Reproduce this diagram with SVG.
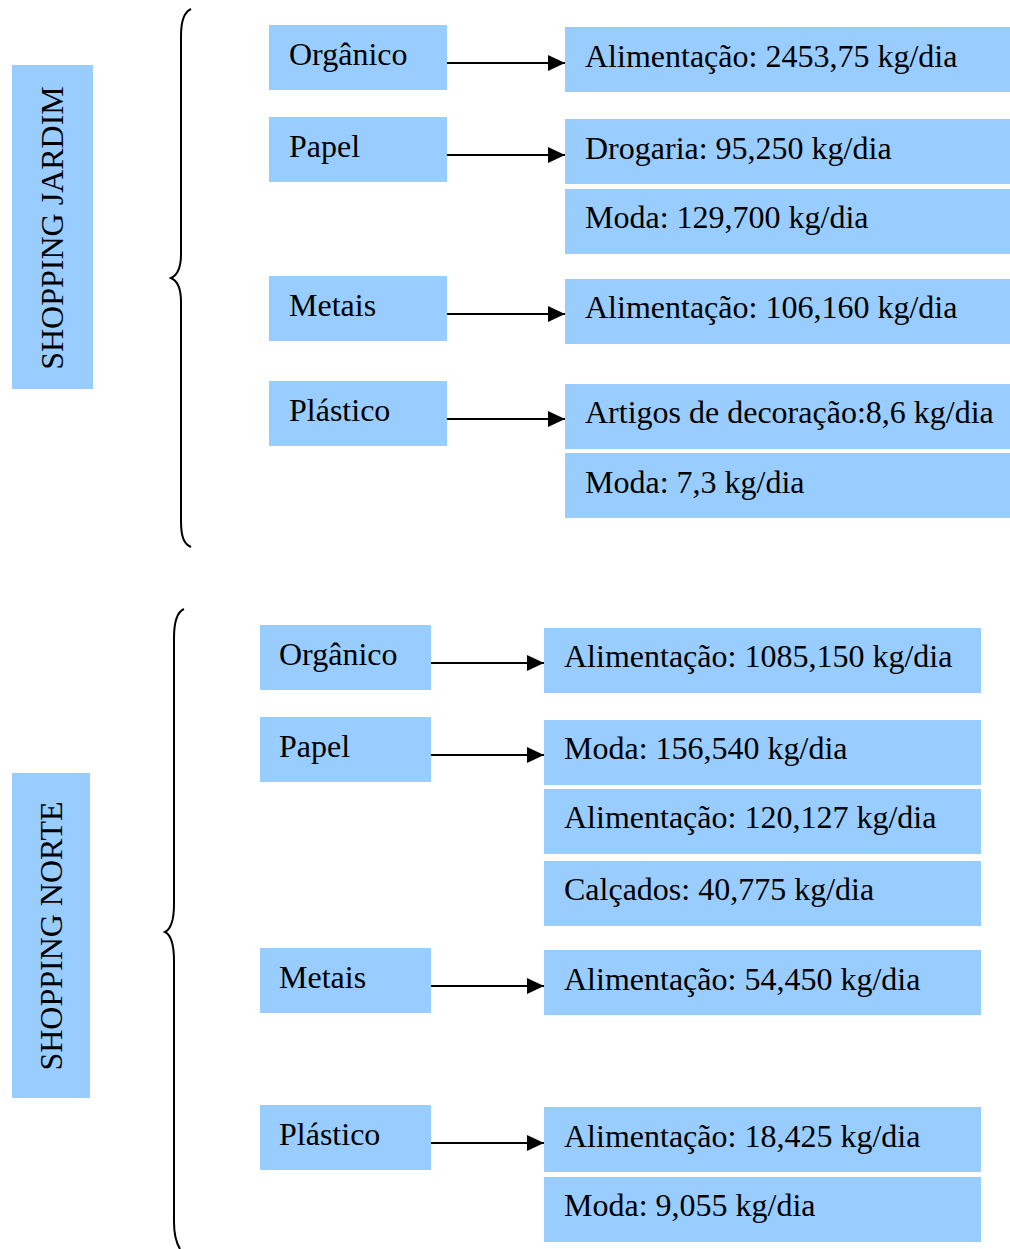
<svg xmlns="http://www.w3.org/2000/svg" width="1010" height="1249" viewBox="0 0 1010 1249">
  <style>
    .box { fill: #99ccff; }
    .lbl { font-family: "Liberation Serif", "Times New Roman", serif; font-size: 32px; fill: #000; }
    .vlbl { font-family: "Liberation Serif", "Times New Roman", serif; font-size: 32px; fill: #000; text-anchor: middle; }
    .brace { fill: none; stroke: #000; stroke-width: 2; }
    .arrow { fill: none; stroke: #000; stroke-width: 2; marker-end: url(#head); }
  </style>
  <defs>
    <marker id="head" viewBox="0 0 17 16" refX="17" refY="8" markerWidth="17" markerHeight="16" markerUnits="userSpaceOnUse" orient="auto">
      <path d="M0,0 L17,8 L0,16 Z" fill="#000"/>
    </marker>
  </defs>
  <rect width="1010" height="1249" fill="#fff"/>

  <!-- Shopping Jardim -->
  <g id="jardim">
    <rect class="box" x="12" y="65" width="81" height="324"/>
    <text class="vlbl" transform="translate(63,228) rotate(-90)">SHOPPING JARDIM</text>
  </g>
  <g id="jardim-organico"><rect class="box" x="269" y="25" width="178" height="65"/><text class="lbl" x="289" y="65">Orgânico</text></g>
  <g id="jardim-papel"><rect class="box" x="269" y="117" width="178" height="65"/><text class="lbl" x="289" y="157">Papel</text></g>
  <g id="jardim-metais"><rect class="box" x="269" y="276" width="178" height="65"/><text class="lbl" x="289" y="316">Metais</text></g>
  <g id="jardim-plastico"><rect class="box" x="269" y="381" width="178" height="65"/><text class="lbl" x="289" y="421">Plástico</text></g>

  <g id="jardim-org-alim"><rect class="box" x="565" y="27" width="445" height="65"/><text class="lbl" x="585" y="67">Alimentação: 2453,75 kg/dia</text></g>
  <g id="jardim-pap-drog"><rect class="box" x="565" y="119" width="445" height="65"/><text class="lbl" x="585" y="159">Drogaria: 95,250 kg/dia</text></g>
  <g id="jardim-pap-moda"><rect class="box" x="565" y="189" width="445" height="65"/><text class="lbl" x="585" y="228">Moda: 129,700 kg/dia</text></g>
  <g id="jardim-met-alim"><rect class="box" x="565" y="279" width="445" height="65"/><text class="lbl" x="585" y="318">Alimentação: 106,160 kg/dia</text></g>
  <g id="jardim-pla-deco"><rect class="box" x="565" y="384" width="445" height="65"/><text class="lbl" x="585" y="423">Artigos de decoração:8,6 kg/dia</text></g>
  <g id="jardim-pla-moda"><rect class="box" x="565" y="453" width="445" height="65"/><text class="lbl" x="585" y="493">Moda: 7,3 kg/dia</text></g>

  <!-- Shopping Norte -->
  <g id="norte">
    <rect class="box" x="12" y="773" width="78" height="325"/>
    <text class="vlbl" transform="translate(62,936) rotate(-90)">SHOPPING NORTE</text>
  </g>
  <g id="norte-organico"><rect class="box" x="260" y="625" width="171" height="65"/><text class="lbl" x="279" y="665">Orgânico</text></g>
  <g id="norte-papel"><rect class="box" x="260" y="717" width="171" height="65"/><text class="lbl" x="279" y="757">Papel</text></g>
  <g id="norte-metais"><rect class="box" x="260" y="948" width="171" height="65"/><text class="lbl" x="279" y="988">Metais</text></g>
  <g id="norte-plastico"><rect class="box" x="260" y="1105" width="171" height="65"/><text class="lbl" x="279" y="1145">Plástico</text></g>

  <g id="norte-org-alim"><rect class="box" x="544" y="628" width="437" height="65"/><text class="lbl" x="564" y="667">Alimentação: 1085,150 kg/dia</text></g>
  <g id="norte-pap-moda"><rect class="box" x="544" y="720" width="437" height="65"/><text class="lbl" x="564" y="759">Moda: 156,540 kg/dia</text></g>
  <g id="norte-pap-alim"><rect class="box" x="544" y="789" width="437" height="65"/><text class="lbl" x="564" y="828">Alimentação: 120,127 kg/dia</text></g>
  <g id="norte-pap-calc"><rect class="box" x="544" y="861" width="437" height="65"/><text class="lbl" x="564" y="900">Calçados: 40,775 kg/dia</text></g>
  <g id="norte-met-alim"><rect class="box" x="544" y="950" width="437" height="65"/><text class="lbl" x="564" y="990">Alimentação: 54,450 kg/dia</text></g>
  <g id="norte-pla-alim"><rect class="box" x="544" y="1107" width="437" height="65"/><text class="lbl" x="564" y="1147">Alimentação: 18,425 kg/dia</text></g>
  <g id="norte-pla-moda"><rect class="box" x="544" y="1177" width="437" height="65"/><text class="lbl" x="564" y="1216">Moda: 9,055 kg/dia</text></g>

  <!-- connectors -->
  <g id="connectors">
    <path class="brace" d="M191,9 C184,12 181,20 181,36 L181,254 C181,268 178,275 171,278 C178,281 181,288 181,302 L181,521 C181,537 184,544 191,547"/>
    <path class="brace" d="M184,609 C177,612 174,621 174,638 L174,904 C174,920 171,929 165,932 C171,935 174,944 174,961 L174,1222 C174,1237 177,1244 180,1249"/>
    <line class="arrow" x1="447" y1="63" x2="565" y2="63"/>
    <line class="arrow" x1="447" y1="155" x2="565" y2="155"/>
    <line class="arrow" x1="447" y1="314" x2="565" y2="314"/>
    <line class="arrow" x1="447" y1="419" x2="565" y2="419"/>
    <line class="arrow" x1="431" y1="663" x2="544" y2="663"/>
    <line class="arrow" x1="431" y1="755" x2="544" y2="755"/>
    <line class="arrow" x1="431" y1="986" x2="544" y2="986"/>
    <line class="arrow" x1="431" y1="1143" x2="544" y2="1143"/>
  </g>
</svg>
